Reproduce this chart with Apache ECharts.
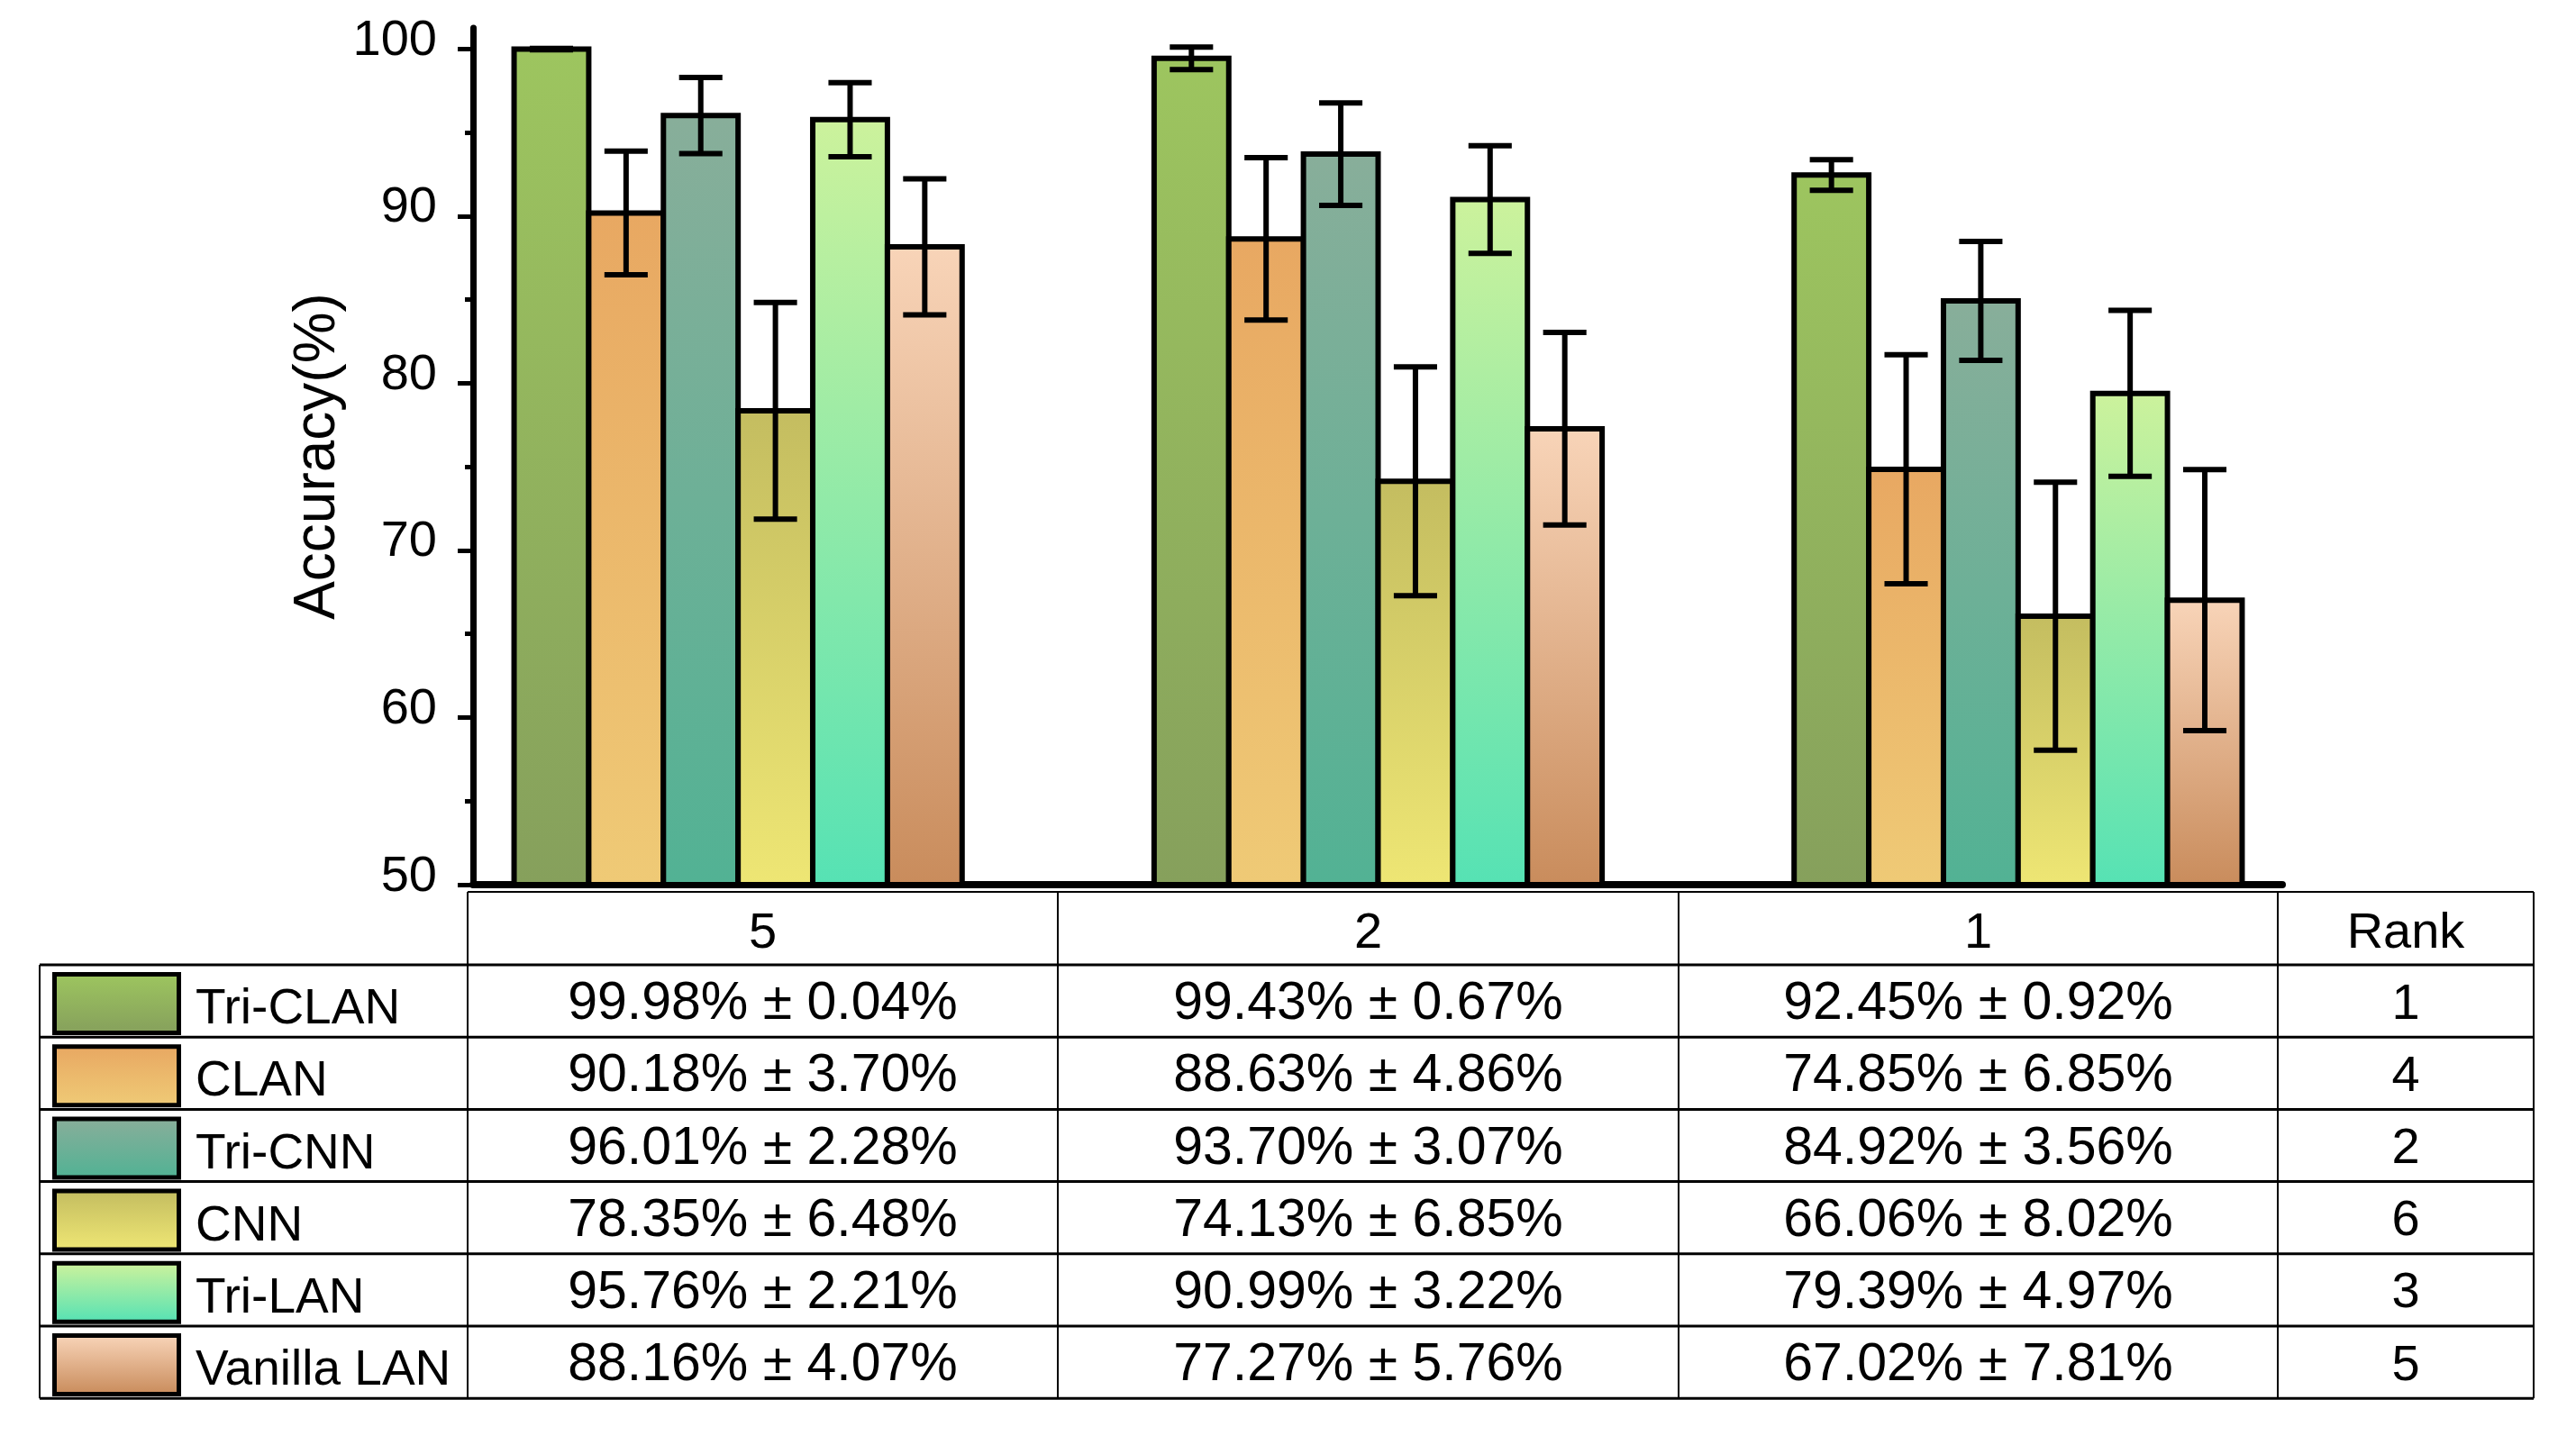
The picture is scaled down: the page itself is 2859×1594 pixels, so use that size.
<!DOCTYPE html>
<html>
<head>
<meta charset="utf-8">
<title>Accuracy by model</title>
<script src="https://cdn.jsdelivr.net/npm/echarts@6/dist/echarts.min.js"></script>
<style>
    html, body { margin: 0; padding: 0; background: #fff; }
    #chart { width: 2859px; height: 1594px; }
</style>
</head>
<body>
<div id="chart"></div>
<script>
// data
const categories = ["5", "2", "1"];
const models = ["Tri-CLAN", "CLAN", "Tri-CNN", "CNN", "Tri-LAN", "Vanilla LAN"];
const meanAcc = [
    [99.98, 99.43, 92.45],
    [90.18, 88.63, 74.85],
    [96.01, 93.70, 84.92],
    [78.35, 74.13, 66.06],
    [95.76, 90.99, 79.39],
    [88.16, 77.27, 67.02]
];
const stdAcc = [
    [0.04, 0.67, 0.92],
    [3.70, 4.86, 6.85],
    [2.28, 3.07, 3.56],
    [6.48, 6.85, 8.02],
    [2.21, 3.22, 4.97],
    [4.07, 5.76, 7.81]
];
const ranks = [1, 4, 2, 6, 3, 5];
const yTicks = [50, 60, 70, 80, 90, 100];
const yMinorTicks = [55, 65, 75, 85, 95];

// top / bottom colour of each model's gradient
const gradColors = [
    ["#9dc55f", "#86a05c"],
    ["#e8a862", "#efca76"],
    ["#88ae9a", "#52b294"],
    ["#c4bd60", "#eee674"],
    ["#ccf29c", "#56e2b4"],
    ["#f8d4b8", "#c98c5c"]
];

const FONT = "'Liberation Sans', Arial, sans-serif";
const Y_MIN = 50;
const Y_MAX = 101.25;
const CAT_GAP = 0.3;

const chart = echarts.init(document.getElementById("chart"), null, { renderer: "svg" });

const makeGrad = i =>
    new echarts.graphic.LinearGradient(0, 0, 0, 1, [
        { offset: 0, color: gradColors[i][0] },
        { offset: 1, color: gradColors[i][1] }
    ]);

// bar + error bar of one model inside one category
const renderBar = si => (params, api) => {
    const cat = api.value(0);
    const mean = api.value(1);
    const sd = api.value(2);
    const band = api.size([1, 0])[0];
    const bw = (band * (1 - CAT_GAP)) / models.length;
    const top = api.coord([cat, mean]);
    const base = api.coord([cat, Y_MIN]);
    const cx = top[0] + (si - (models.length - 1) / 2) * bw;
    const lo = api.coord([cat, mean - sd])[1];
    const hi = api.coord([cat, mean + sd])[1];
    const capW = bw * 0.58;
    const black = { stroke: "#000", lineWidth: 6 };
    return {
        type: "group",
        children: [
            {
                type: "rect",
                shape: { x: cx - bw / 2, y: top[1], width: bw, height: base[1] - top[1] },
                style: { fill: makeGrad(si), stroke: "#000", lineWidth: 6 }
            },
            { type: "line", shape: { x1: cx, y1: lo, x2: cx, y2: hi }, style: black },
            { type: "line", shape: { x1: cx - capW / 2, y1: lo, x2: cx + capW / 2, y2: lo }, style: black },
            { type: "line", shape: { x1: cx - capW / 2, y1: hi, x2: cx + capW / 2, y2: hi }, style: black }
        ]
    };
};

const series = models.map((name, si) => ({
    name,
    type: "custom",
    xAxisIndex: 1,
    yAxisIndex: 2,
    renderItem: renderBar(si),
    data: categories.map((c, ci) => [ci, meanAcc[si][ci], stdAcc[si][ci]]),
    z: 3
}));

// table under the plot
const colX = [44, 519, 1174, 1863, 2528, 2812];
const headTop = 990;
const rowTop = 1071;
const rowH = 80.2;
const tableBottom = rowTop + rowH * models.length;

const txt = (text, x, y, align, size) => ({
    type: "text",
    x,
    y,
    style: {
        text,
        fontSize: size || 56,
        fontFamily: FONT,
        fill: "#000",
        align: align || "center",
        verticalAlign: "middle"
    }
});
const hline = (y, x1, x2, w) => ({
    type: "line",
    shape: { x1, y1: y, x2, y2: y },
    style: { stroke: "#000", lineWidth: w }
});
const vline = (x, y1, y2, w) => ({
    type: "line",
    shape: { x1: x, y1, x2: x, y2 },
    style: { stroke: "#000", lineWidth: w }
});

let tableEls = [];
const headMid = (headTop + rowTop) / 2 + 2;
categories.forEach((c, ci) => {
    tableEls.push(txt(c, (colX[ci + 1] + colX[ci + 2]) / 2, headMid));
});
tableEls.push(txt("Rank", (colX[4] + colX[5]) / 2, headMid));

models.forEach((m, si) => {
    const y0 = rowTop + si * rowH;
    const mid = y0 + rowH / 2;
    tableEls.push({
        type: "rect",
        shape: { x: 60.5, y: y0 + 10.5, width: 138, height: 65 },
        style: { fill: makeGrad(si), stroke: "#000", lineWidth: 5 }
    });
    tableEls.push(txt(m, 217, mid + 6, "left", 55));
    categories.forEach((c, ci) => {
        const s = meanAcc[si][ci].toFixed(2) + "% \u00b1 " + stdAcc[si][ci].toFixed(2) + "%";
        tableEls.push(txt(s, (colX[ci + 1] + colX[ci + 2]) / 2, mid, "center", 59));
    });
    tableEls.push(txt(String(ranks[si]), (colX[4] + colX[5]) / 2, mid));
});

tableEls.push(hline(headTop, colX[1], colX[5], 2));
for (let k = 0; k <= models.length; k++) {
    tableEls.push(hline(rowTop + k * rowH, colX[0], colX[5], 3));
}
tableEls.push(vline(colX[0], rowTop, tableBottom, 2));
for (let k = 1; k < colX.length; k++) {
    tableEls.push(vline(colX[k], headTop, tableBottom, 2));
}

const tickStyle = { color: "#000", width: 5 };

const option = {
    animation: false,
    backgroundColor: "#fff",
    grid: [
        // axes frame
        { left: 525, top: 31, width: 2008, height: 951 },
        // bar area, category bands
        { left: 464, top: 31, right: 264, height: 951 }
    ],
    xAxis: [
        {
            gridIndex: 0,
            type: "value",
            min: 0,
            max: 1,
            axisLine: { show: true, onZero: false, lineStyle: { color: "#000", width: 8 } },
            axisTick: { show: false },
            axisLabel: { show: false },
            splitLine: { show: false }
        },
        {
            gridIndex: 1,
            type: "category",
            data: categories,
            show: false
        }
    ],
    yAxis: [
        {
            gridIndex: 0,
            type: "value",
            position: "left",
            min: Y_MIN,
            max: Y_MAX,
            name: "Accuracy(%)",
            nameLocation: "middle",
            nameGap: 112,
            nameTextStyle: { fontSize: 64, fontFamily: FONT, color: "#000" },
            axisLine: { show: true, lineStyle: { color: "#000", width: 7 } },
            axisTick: { show: true, inside: false, length: 17, customValues: yTicks, lineStyle: tickStyle },
            axisLabel: {
                customValues: yTicks,
                fontSize: 56,
                fontFamily: FONT,
                color: "#000",
                margin: 40,
                verticalAlign: "bottom",
                lineHeight: 26
            },
            splitLine: { show: false }
        },
        {
            gridIndex: 0,
            type: "value",
            position: "left",
            min: Y_MIN,
            max: Y_MAX,
            axisLine: { show: false },
            axisTick: { show: true, inside: false, length: 9, customValues: yMinorTicks, lineStyle: tickStyle },
            axisLabel: { show: false },
            splitLine: { show: false }
        },
        {
            gridIndex: 1,
            type: "value",
            min: Y_MIN,
            max: Y_MAX,
            show: false
        }
    ],
    graphic: tableEls,
    series
};

chart.setOption(option);
</script>
</body>
</html>
